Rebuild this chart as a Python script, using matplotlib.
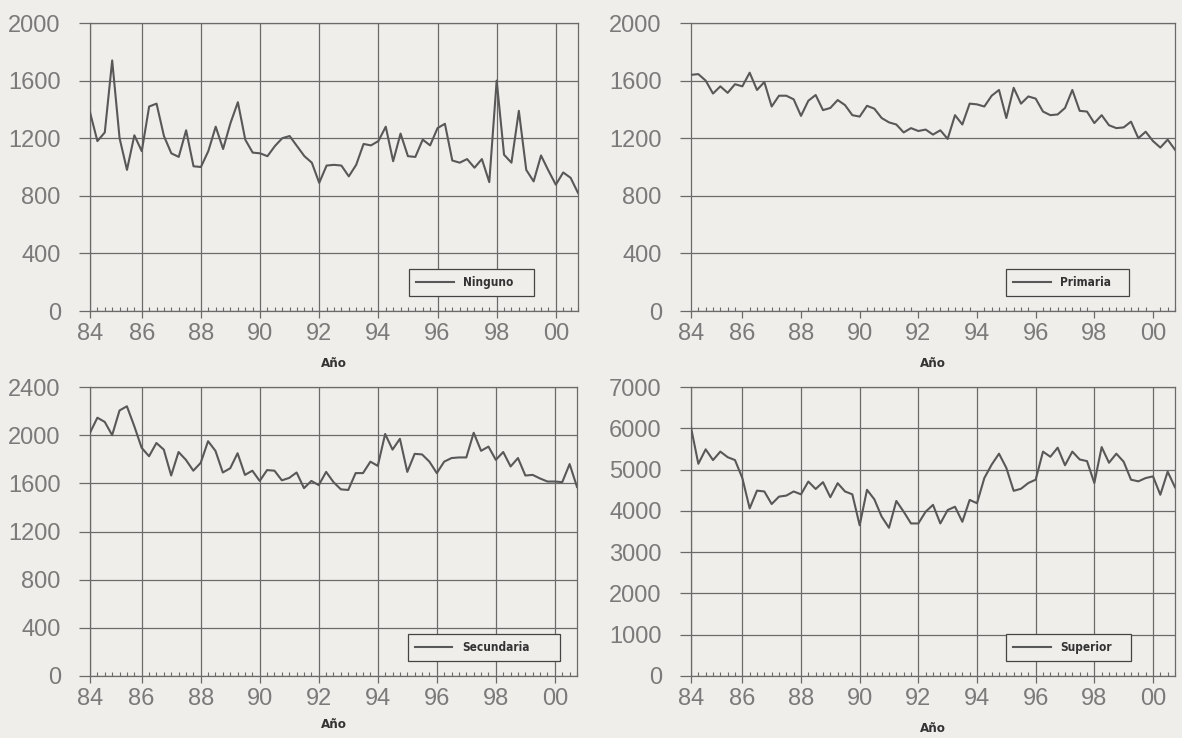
import numpy as np
import pandas as pd
import matplotlib.pyplot as plt

# quarterly series, 1984 Q2 - 2000 Q4
periods = pd.period_range("1984Q2", periods=67, freq="Q")

ninguno = [1380, 1180, 1240, 1740, 1200, 980, 1220, 1110, 1420, 1440,
           1215, 1095, 1070, 1255, 1005, 1000, 1110, 1280, 1125, 1305,
           1450, 1190, 1100, 1095, 1075, 1145, 1200, 1215, 1145, 1075,
           1030, 890, 1010, 1015, 1010, 935, 1015, 1160, 1150, 1180,
           1280, 1040, 1232, 1075, 1070, 1190, 1150, 1270, 1300, 1045,
           1030, 1055, 995, 1055, 895, 1600, 1085, 1030, 1390, 980,
           900, 1080, 975, 877, 962, 925, 820]

primaria = [1640, 1645, 1600, 1510, 1560, 1515, 1575, 1560, 1655, 1535,
            1590, 1420, 1495, 1495, 1470, 1355, 1460, 1500, 1395, 1410,
            1465, 1430, 1360, 1350, 1425, 1405, 1340, 1310, 1295, 1240,
            1270, 1250, 1260, 1225, 1255, 1195, 1360, 1295, 1440, 1435,
            1420, 1495, 1535, 1340, 1550, 1440, 1490, 1475, 1385, 1360,
            1365, 1410, 1535, 1390, 1385, 1305, 1360, 1290, 1270, 1275,
            1315, 1200, 1245, 1180, 1135, 1190, 1120]

secundaria = [2020, 2145, 2110, 2000, 2205, 2240, 2075, 1895, 1825, 1935,
              1880, 1665, 1860, 1795, 1705, 1770, 1950, 1870, 1690, 1725,
              1850, 1670, 1705, 1620, 1710, 1705, 1625, 1645, 1690, 1560,
              1620, 1585, 1695, 1610, 1550, 1545, 1685, 1685, 1780, 1745,
              2010, 1880, 1970, 1695, 1845, 1840, 1780, 1685, 1780, 1810,
              1815, 1815, 2020, 1870, 1905, 1795, 1860, 1740, 1810, 1665,
              1670, 1640, 1615, 1615, 1610, 1760, 1570]

superior = [6020, 5140, 5490, 5230, 5435, 5300, 5230, 4795, 4060, 4490,
            4470, 4165, 4345, 4370, 4470, 4400, 4710, 4530, 4695, 4330,
            4670, 4470, 4400, 3650, 4510, 4280, 3860, 3590, 4240, 3980,
            3695, 3695, 3980, 4145, 3695, 4020, 4100, 3735, 4265, 4185,
            4795, 5120, 5385, 5040, 4485, 4535, 4675, 4755, 5435, 5310,
            5530, 5105, 5435, 5245, 5205, 4675, 5545, 5165, 5385, 5190,
            4755, 4715, 4795, 4835, 4390, 4950, 4570]

year_ticks = [1984.25, 1986, 1988, 1990, 1992, 1994, 1996, 1998, 2000]
year_labels = ["84", "86", "88", "90", "92", "94", "96", "98", "00"]

x = periods.year + (periods.quarter - 1) / 4.0

bg = "#efeeea"
ink = "#585858"
grid = "#6a6a6a"
narrow = ["Liberation Sans Narrow", "DejaVu Sans"]

fig = plt.figure(figsize=(11.82, 7.38), dpi=100)
fig.patch.set_facecolor(bg)


def add_panel(left, right, top, bottom):
    return fig.add_axes([left / 1182, 1 - bottom / 738,
                         (right - left) / 1182, (bottom - top) / 738])


panels = [
    # data, label, ymax, ystep, box (l, r, t, b), vertical grid, legend (x0, w), xlabel pad
    (ninguno, "Ninguno", 2000, 400, (90, 578, 23, 311), True, (0.641, 0.281), 9),
    (primaria, "Primaria", 2000, 400, (691, 1175, 23, 311), False, (0.638, 0.279), 9),
    (secundaria, "Secundaria", 2400, 400, (90, 577, 387, 676), True, (0.640, 0.337), 6),
    (superior, "Superior", 7000, 1000, (691, 1175, 387, 676), True, (0.638, 0.283), 9),
]

for vals, name, ymax, ystep, box, vgrid, leg, lpad in panels:
    ax = add_panel(*box)
    ax.set_facecolor(bg)
    ax.plot(x, vals, color=ink, lw=1.5, label=name, zorder=3)

    ax.set_xlim(1984.25, 2000.75)
    ax.set_ylim(0, ymax)
    ax.set_yticks(np.arange(0, ymax + 1, ystep))
    ax.set_xticks(year_ticks)
    ax.set_xticklabels(year_labels)
    ax.set_xticks(x, minor=True)

    ax.grid(axis="y", color=grid, lw=0.9)
    if vgrid:
        ax.grid(axis="x", which="major", color=grid, lw=0.9)
    ax.set_axisbelow(True)

    for s in ax.spines.values():
        s.set_color(grid)
        s.set_linewidth(0.9)

    ax.tick_params(axis="both", which="major", labelsize=17, labelcolor="#7a7a7a",
                   color=grid, length=5, width=0.9)
    ax.tick_params(axis="y", length=8, pad=13)
    ax.tick_params(axis="x", which="minor", direction="in", length=3,
                   color=grid, width=0.8)
    for lab in ax.get_xticklabels() + ax.get_yticklabels():
        lab.set_family(["Liberation Sans", "DejaVu Sans"])

    ax.set_xlabel("Año", fontsize=9.5, fontweight="bold", color="#333333",
                  family=narrow, fontstretch="condensed", labelpad=lpad)

    lg = ax.legend(loc="lower left", bbox_to_anchor=(leg[0], 0.03, leg[1], 0.095),
                   mode="expand", fancybox=False, framealpha=1, facecolor=bg,
                   edgecolor="#444444", handlelength=3.2, borderpad=0.6,
                   prop={"family": narrow, "size": 8.5, "weight": "bold",
                         "stretch": "condensed"})
    lg.get_frame().set_linewidth(0.9)
    for t in lg.get_texts():
        t.set_color("#333333")

fig.savefig("out.png", dpi=100, facecolor=bg)
